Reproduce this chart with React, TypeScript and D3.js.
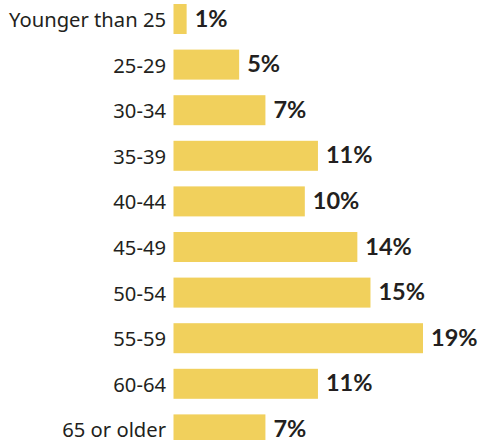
import React from "react";
import * as d3 from "d3";

const categories = ["Younger than 25", "25-29", "30-34", "35-39", "40-44", "45-49", "50-54", "55-59", "60-64", "65 or older"];
const values = [1, 5, 7, 11, 10, 14, 15, 19, 11, 7];

export default function App() {
  const width = 481;
  const height = 440;
  const x0 = 173.5;
  const x = d3.scaleLinear().domain([0, 19]).range([0, 249.5]);
  const y = d3.scaleBand().domain(categories).range([4 - 7.8, 4 - 7.8 + 45.6 * 10]).paddingInner(0.342).paddingOuter(0.171);
  const bh = 30;
  return (
    <svg width={width} height={height} style={{ position: "absolute", left: 0, top: 0 }}>
      {categories.map((c, i) => {
        const yy = (y(c) as number) + (y.bandwidth() - bh) / 2;
        const cy = yy + bh / 2;
        return (
          <g key={c}>
            <rect x={x0} y={yy} width={x(values[i])} height={bh} fill="#F1D05C" />
            <text x={166} y={cy + 8} textAnchor="end" fontFamily="'Noto Sans', sans-serif" fontSize={20.2} fill="#231f20">{c}</text>
            <text x={x0 + x(values[i]) + 8} y={cy + 7.5} textAnchor="start" fontFamily="Lato, 'Noto Sans', sans-serif" fontWeight="bold" fontSize={23.5} fill="#231f20">{values[i] + "%"}</text>
          </g>
        );
      })}
    </svg>
  );
}
